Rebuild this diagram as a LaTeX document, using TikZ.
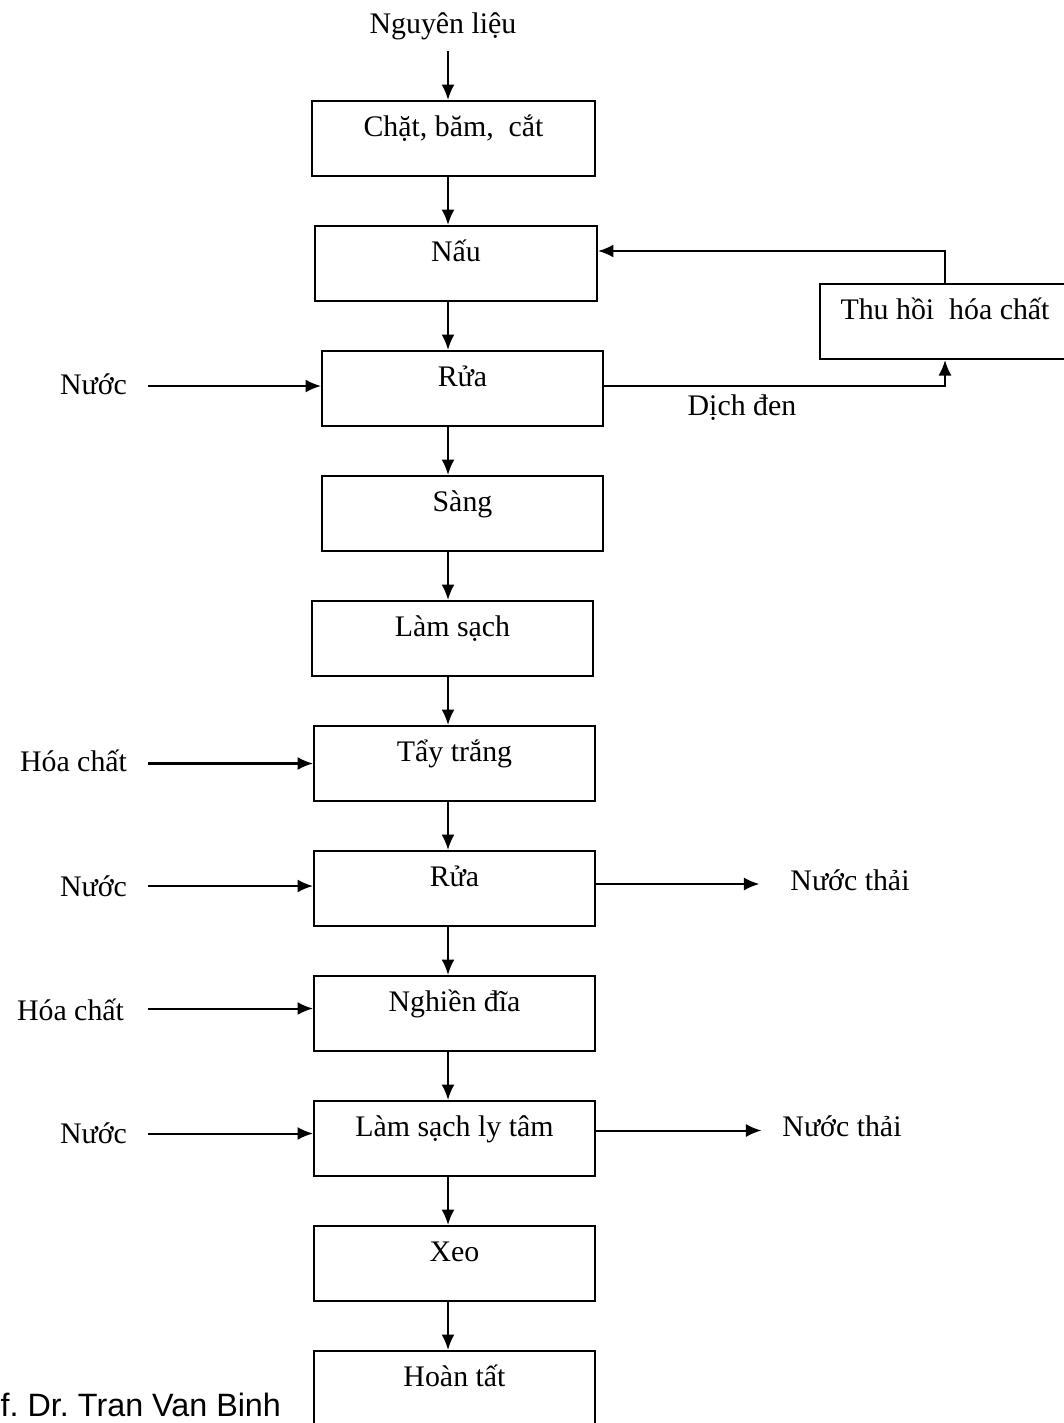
\documentclass[tikz,border=0pt]{standalone}
\usepackage{fontspec}
\setmainfont{Liberation Serif}
\setsansfont{Liberation Sans}
\usetikzlibrary{arrows.meta}
\frenchspacing

\begin{document}
\begin{tikzpicture}[x=0.02cm,y=-0.02cm,line width=1.15pt,
  >={Latex[length=0.31cm,width=0.26cm]},
  every node/.style={font=\fontsize{17}{20}\selectfont},
  stage/.style={draw,minimum width=5.62cm,inner sep=0pt,text height=0.7cm,text depth=0.8cm},
  side/.style={inner sep=0pt}]
  \useasboundingbox (0,0) rectangle (1064,1423);
  \coordinate (spine) at (448,0);

  % main line
  \node (nl) at (443,26) {Nguyên liệu};
  \node (chat) at (453.5,138.5) [stage,minimum width=5.66cm] {Chặt, băm,\ \ cắt};
  \node (nau) at (456,263.5) [stage,minimum width=5.64cm] {Nấu};
  \node (rua) at (462.5,388.5) [stage] {Rửa};
  \node (sang) at (462.5,513.5) [stage] {Sàng};
  \node (lamsach) at (452.5,638.5) [stage] {Làm sạch};
  \node (tay) at (454.5,763.5) [stage] {Tẩy trắng};
  \node (ruab) at (454.5,888.5) [stage] {Rửa};
  \node (nghien) at (454.5,1013.5) [stage] {Nghiền đĩa};
  \node (lytam) at (454.5,1138.5) [stage] {Làm sạch ly tâm};
  \node (xeo) at (454.5,1263.5) [stage] {Xeo};
  \node (hoan) at (454.5,1388.5) [stage] {Hoàn tất};

  \draw[->] ([yshift=-0.1cm]spine |- nl.south) -- (spine |- chat.north);
  \foreach \a/\b in {chat/nau,nau/rua,rua/sang,sang/lamsach,lamsach/tay,tay/ruab,ruab/nghien,nghien/lytam,lytam/xeo,xeo/hoan}
    \draw[->] (spine |- \a.south) -- (spine |- \b.north);

  % chemical recovery
  \node (thu) at (945,321.5) [stage,minimum width=5cm] {Thu hồi\ \ hóa chất};
  \draw[->] (thu.north) |- ([yshift=0.25cm]nau.east);
  \draw[->] ([yshift=0.05cm]rua.east) -| (thu.south);
  \node (dich) at (742,408) {Dịch đen};

  % inputs
  \node (nuoca) at (128,384) [side,anchor=east] {Nước};
  \node (hoaa) at (128,761) [side,anchor=east] {Hóa chất};
  \node (nuocb) at (128,886) [side,anchor=east] {Nước};
  \node (hoab) at (125,1010) [side,anchor=east] {Hóa chất};
  \node (nuocc) at (128,1133) [side,anchor=east] {Nước};
  \draw[->] ([xshift=0.4cm,yshift=0.05cm]nuoca.east |- rua.west) -- ([yshift=0.05cm]rua.west);
  \draw[->] ([xshift=0.4cm]hoaa.east |- tay.west) -- (tay.west);
  \draw[->] ([xshift=0.4cm,yshift=0.05cm]nuocb.east |- ruab.west) -- ([yshift=0.05cm]ruab.west);
  \draw[->] ([xshift=0.46cm,yshift=0.1cm]hoab.east |- nghien.west) -- ([yshift=0.1cm]nghien.west);
  \draw[->] ([xshift=0.4cm,yshift=0.1cm]nuocc.east |- lytam.west) -- ([yshift=0.1cm]lytam.west);

  % outputs
  \node (thaia) at (850,880) [side] {Nước thải};
  \node (thaib) at (842,1126) [side] {Nước thải};
  \draw[->] ([yshift=0.09cm]ruab.east) -- ([xshift=-0.6cm,yshift=0.09cm]thaia.west |- ruab.east);
  \draw[->] ([yshift=0.16cm]lytam.east) -- ([xshift=-0.4cm,yshift=0.16cm]thaib.west |- lytam.east);

  \node (auth) at (282,1416) [side,anchor=base east,font=\sffamily\fontsize{18.4}{21}\selectfont] {f. Dr. Tran Van Binh};
\end{tikzpicture}
\end{document}
